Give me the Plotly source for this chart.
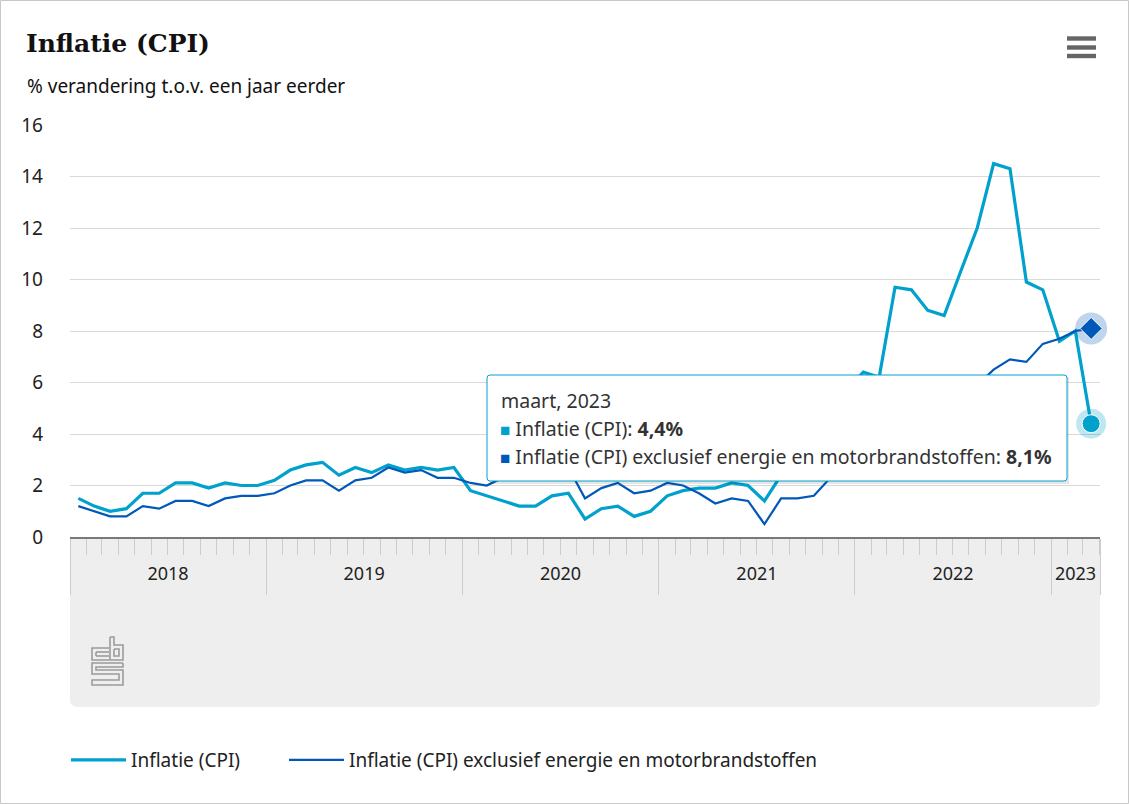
import pandas as pd
import plotly.graph_objects as go

# ---------------- data ----------------
month_starts = pd.date_range("2018-01-01", "2023-03-01", freq="MS")
cpi = [1.5, 1.2, 1.0, 1.1, 1.7, 1.7, 2.1, 2.1, 1.9, 2.1, 2.0, 2.0,
       2.2, 2.6, 2.8, 2.9, 2.4, 2.7, 2.5, 2.8, 2.6, 2.7, 2.6, 2.7,
       1.8, 1.6, 1.4, 1.2, 1.2, 1.6, 1.7, 0.7, 1.1, 1.2, 0.8, 1.0,
       1.6, 1.8, 1.9, 1.9, 2.1, 2.0, 1.4, 2.4, 2.7, 3.4, 5.2, 5.7,
       6.4, 6.2, 9.7, 9.6, 8.8, 8.6, 10.3, 12.0, 14.5, 14.3, 9.9, 9.6,
       7.6, 8.0, 4.4]
core = [1.2, 1.0, 0.8, 0.8, 1.2, 1.1, 1.4, 1.4, 1.2, 1.5, 1.6, 1.6,
        1.7, 2.0, 2.2, 2.2, 1.8, 2.2, 2.3, 2.7, 2.5, 2.6, 2.3, 2.3,
        2.1, 2.0, 2.3, 2.4, 2.3, 2.5, 2.7, 1.5, 1.9, 2.1, 1.7, 1.8,
        2.1, 2.0, 1.7, 1.3, 1.5, 1.4, 0.5, 1.5, 1.5, 1.6, 2.3, 2.6,
        2.9, 3.3, 3.9, 4.4, 4.9, 5.0, 5.4, 5.9, 6.5, 6.9, 6.8, 7.5,
        7.7, 8.0, 8.1]
years = ["2018", "2019", "2020", "2021", "2022", "2023"]
series_names = ["Inflatie (CPI)",
                "Inflatie (CPI) exclusief energie en motorbrandstoffen"]
y_ticks = [0, 2, 4, 6, 8, 10, 12, 14, 16]
tooltip_month = "maart, 2023"

# ---------------- styling / layout helpers ----------------
LIGHT = "#00a1cd"
DARK = "#0058b8"
FONT = "Noto Sans"
W, H = 1129, 804
L, R, T, B = 70, 29, 125, 267
PW, PH = W - L - R, H - T - B


def px(x):
    return (x - L) / PW


def py(y):
    return (H - B - y) / PH


# month midpoints for point placement
month_ends = month_starts + pd.offsets.MonthBegin(1)
x_mid = month_starts + (month_ends - month_starts) / 2
x_range = [pd.Timestamp("2018-01-01"), pd.Timestamp("2023-04-02")]
year_starts = [pd.Timestamp(f"{y}-01-01") for y in years]
year_bounds = year_starts + [x_range[1]]
year_label_pos = [a + (b - a) / 2 for a, b in zip(year_starts, year_bounds[1:])]

fig = go.Figure()

fig.add_trace(go.Scatter(x=x_mid, y=cpi, mode="lines", name=series_names[0],
                         line=dict(color=LIGHT, width=3.2), hoverinfo="skip",
                         legend="legend"))
fig.add_trace(go.Scatter(x=x_mid, y=core, mode="lines", name=series_names[1],
                         line=dict(color=DARK, width=2.2), hoverinfo="skip",
                         legend="legend2"))

# hover state markers for the last point
fig.add_trace(go.Scatter(x=[x_mid[-1]], y=[cpi[-1]], mode="markers", showlegend=False,
                         marker=dict(size=30, color="rgba(0,161,205,0.25)"),
                         cliponaxis=False, hoverinfo="skip"))
fig.add_trace(go.Scatter(x=[x_mid[-1]], y=[cpi[-1]], mode="markers", showlegend=False,
                         marker=dict(size=18, color=LIGHT, line=dict(color="white", width=1)),
                         cliponaxis=False, hoverinfo="skip"))
fig.add_trace(go.Scatter(x=[x_mid[-1]], y=[core[-1]], mode="markers", showlegend=False,
                         marker=dict(size=32, color="rgba(0,88,184,0.25)"),
                         cliponaxis=False, hoverinfo="skip"))
fig.add_trace(go.Scatter(x=[x_mid[-1]], y=[core[-1]], mode="markers", showlegend=False,
                         marker=dict(size=17, symbol="diamond", color=DARK,
                                     line=dict(color="white", width=1)),
                         cliponaxis=False, hoverinfo="skip"))
# helper trace for the year-label axis
fig.add_trace(go.Scatter(x=[], y=[], xaxis="x2", yaxis="y", showlegend=False, hoverinfo="skip"))

shapes = []
# outer border
shapes.append(dict(type="rect", xref="paper", yref="paper", layer="below",
                   x0=px(0.5), x1=px(1128.5), y0=py(0.5), y1=py(803.5),
                   line=dict(color="#c8c8c8", width=1), fillcolor="white"))
# grey band under the axis (rounded bottom corners)
bx0, bx1, by0, by1, r = 70, 1100, 537, 707, 8
band_path = (f"M {px(bx0)},{py(by0)} L {px(bx1)},{py(by0)} L {px(bx1)},{py(by1 - r)} "
             f"Q {px(bx1)},{py(by1)} {px(bx1 - r)},{py(by1)} L {px(bx0 + r)},{py(by1)} "
             f"Q {px(bx0)},{py(by1)} {px(bx0)},{py(by1 - r)} Z")
shapes.append(dict(type="path", xref="paper", yref="paper", layer="below",
                   path=band_path, fillcolor="#eeeeee", line=dict(width=0)))

# cbs logo (approximation)
logo_lines = [
    [(109, 648), (92, 648), (92, 660), (109, 660)],
    [(96, 652), (109, 652)],
    [(96, 656), (109, 656)],
    [(96, 652), (96, 656)],
    [(110, 637), (110, 660), (123, 660), (123, 645), (114, 645), (114, 637), (110, 637)],
    [(114, 649), (119, 649), (119, 656), (114, 656), (114, 649)],
    [(123, 663), (92, 663), (92, 674), (119, 674), (119, 680), (92, 680), (92, 685), (123, 685),
     (123, 670), (96, 670), (96, 667), (123, 667), (123, 663)],
]
for pts in logo_lines:
    d = "M " + " L ".join(f"{px(a)},{py(b)}" for a, b in pts)
    shapes.append(dict(type="path", xref="paper", yref="paper", layer="above",
                       path=d, line=dict(color="#9b9b9b", width=1.6)))

# hamburger menu icon
for yy in (38.5, 47.5, 56):
    shapes.append(dict(type="rect", xref="paper", yref="paper", layer="above",
                       x0=px(1067), x1=px(1096), y0=py(yy - 2.2), y1=py(yy + 2.2),
                       fillcolor="#666666", line=dict(width=0)))

# tooltip box (shadow + rounded box)
tx0, tx1, ty0, ty1, tr = 487, 1067, 375, 481, 3
shapes.append(dict(type="rect", xref="paper", yref="paper", layer="above",
                   x0=px(tx0 + 2), x1=px(tx1 + 2), y0=py(ty0 + 2), y1=py(ty1 + 3),
                   fillcolor="rgba(0,0,0,0.10)", line=dict(width=0)))
tip_path = (f"M {px(tx0 + tr)},{py(ty0)} L {px(tx1 - tr)},{py(ty0)} "
            f"Q {px(tx1)},{py(ty0)} {px(tx1)},{py(ty0 + tr)} L {px(tx1)},{py(ty1 - tr)} "
            f"Q {px(tx1)},{py(ty1)} {px(tx1 - tr)},{py(ty1)} L {px(tx0 + tr)},{py(ty1)} "
            f"Q {px(tx0)},{py(ty1)} {px(tx0)},{py(ty1 - tr)} L {px(tx0)},{py(ty0 + tr)} "
            f"Q {px(tx0)},{py(ty0)} {px(tx0 + tr)},{py(ty0)} Z")
shapes.append(dict(type="path", xref="paper", yref="paper", layer="above",
                   path=tip_path, fillcolor="white", line=dict(color=LIGHT, width=1)))

TT = 19.5
annotations = [
    dict(text="<b>Inflatie (CPI)</b>", xref="paper", yref="paper", x=px(24), y=py(43),
         xanchor="left", yanchor="middle", showarrow=False,
         font=dict(family="DejaVu Serif", size=25, color="#111111")),
    dict(text="% verandering t.o.v. een jaar eerder", xref="paper", yref="paper",
         x=px(25), y=py(86), xanchor="left", yanchor="middle", showarrow=False,
         font=dict(family=FONT, size=19, color="#111111")),
    dict(text=tooltip_month, xref="paper", yref="paper", x=px(499), y=py(401),
         xanchor="left", yanchor="middle", showarrow=False,
         font=dict(family=FONT, size=TT, color="#333333")),
    dict(text=f"<span style='color:{LIGHT};font-size:17px'>■</span> {series_names[0]}: "
              f"<b>{str(cpi[-1]).replace('.', ',')}%</b>",
         xref="paper", yref="paper", x=px(498), y=py(428),
         xanchor="left", yanchor="middle", showarrow=False,
         font=dict(family=FONT, size=TT, color="#333333")),
    dict(text=f"<span style='color:{DARK};font-size:17px'>■</span> {series_names[1]}: "
              f"<b>{str(core[-1]).replace('.', ',')}%</b>",
         xref="paper", yref="paper", x=px(498), y=py(456),
         xanchor="left", yanchor="middle", showarrow=False,
         font=dict(family=FONT, size=TT, color="#333333")),
]

legend_style = dict(orientation="h", y=py(760), xanchor="left", yanchor="middle",
                    font=dict(family=FONT, size=19, color="#222222"),
                    itemwidth=55, bgcolor="rgba(0,0,0,0)")

fig.update_layout(
    width=W, height=H,
    margin=dict(l=L, r=R, t=T, b=B, pad=0),
    paper_bgcolor="white", plot_bgcolor="white",
    font=dict(family=FONT, size=17, color="#222222"),
    shapes=shapes, annotations=annotations,
    showlegend=True,
    legend=dict(x=px(66), **legend_style),
    legend2=dict(x=px(284), **legend_style),
    xaxis=dict(type="date", range=x_range, tickmode="array", tickvals=year_bounds,
               showticklabels=False, ticks="outside", ticklen=56, tickcolor="#cccccc",
               tickwidth=1, showline=True, linecolor="#7a7a7a", linewidth=2,
               showgrid=False, zeroline=False,
               minor=dict(tickmode="linear", tick0="2018-01-01", dtick="M1",
                          ticks="outside", ticklen=16, tickcolor="#cccccc",
                          tickwidth=1, showgrid=False)),
    xaxis2=dict(type="date", range=x_range, overlaying="x", anchor="y", side="bottom",
                tickmode="array", tickvals=year_label_pos, ticktext=years,
                ticks="outside", ticklen=0, ticklabelstandoff=20, showline=False,
                showgrid=False, zeroline=False,
                tickfont=dict(family=FONT, size=18, color="#222222")),
    yaxis=dict(range=[0, 16], tickmode="array", tickvals=y_ticks,
               gridcolor="#d9d9d9", gridwidth=1, zeroline=False, showline=False,
               ticks="", ticklabelstandoff=26,
               tickfont=dict(family=FONT, size=19, color="#222222")),
)

fig.write_html("out.html")
